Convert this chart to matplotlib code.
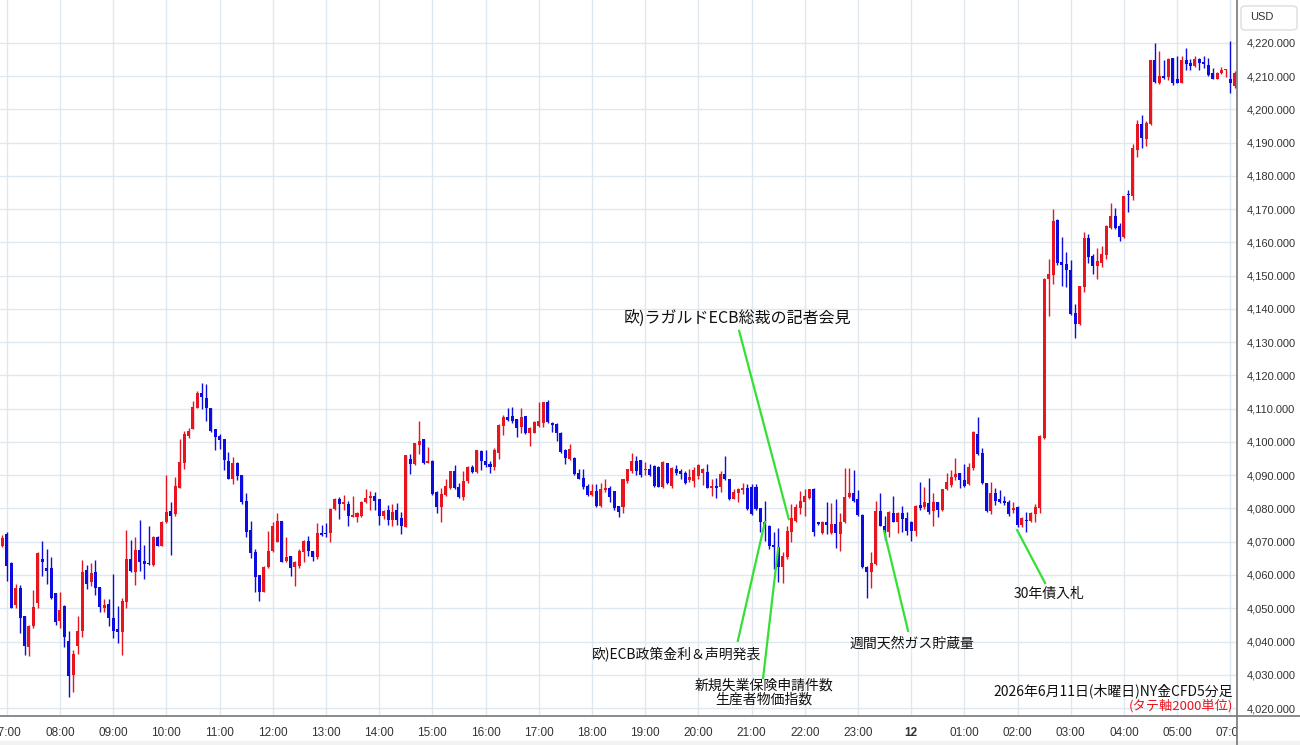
import matplotlib.pyplot as plt
from matplotlib.lines import Line2D
from matplotlib.patches import FancyBboxPatch, Rectangle
from matplotlib.transforms import Bbox
import numpy as np

plt.rcParams['font.family'] = ['Noto Sans CJK JP', 'DejaVu Sans']

# 5-minute bars, first bar is 06:55, one row per hour
opens = [4068.6,
    4072.4, 4063.6, 4051.1, 4056.0, 4047.8, 4038.3, 4044.6, 4051.6, 4064.8, 4062.2, 4062.0, 4054.6,
    4046.1, 4050.6, 4040.1, 4030.0, 4038.6, 4043.3, 4061.6, 4057.8, 4060.8, 4056.3, 4050.0, 4051.3,
    4047.0, 4043.8, 4042.8, 4052.0, 4064.8, 4060.8, 4067.6, 4064.3, 4063.4, 4063.0, 4071.3, 4068.8,
    4075.8, 4079.3, 4078.3, 4086.3, 4093.8, 4101.8, 4104.0, 4110.3, 4114.6, 4113.3, 4110.3, 4104.0,
    4101.8, 4100.8, 4094.3, 4089.0, 4093.6, 4090.0, 4082.3, 4073.6, 4067.0, 4060.0, 4055.0, 4062.3,
    4067.3, 4070.0, 4076.3, 4064.3, 4065.6, 4062.3, 4062.8, 4067.0, 4070.3, 4067.3, 4065.3, 4072.6,
    4072.5, 4072.6, 4079.8, 4082.8, 4081.3, 4081.3, 4077.3, 4077.3, 4077.6, 4081.8, 4083.3, 4083.8,
    4082.8, 4077.6, 4079.6, 4076.6, 4079.6, 4077.0, 4074.3, 4095.0, 4093.3, 4099.0, 4100.8, 4093.8,
    4094.3, 4085.0, 4080.3, 4084.0, 4086.3, 4091.3, 4086.6, 4083.6, 4088.3, 4092.6, 4091.0, 4097.3,
    4094.3, 4093.3, 4092.6, 4096.6, 4104.8, 4107.6, 4107.8, 4107.0, 4104.6, 4107.8, 4102.6, 4102.8,
    4104.8, 4105.8, 4112.0, 4105.8, 4105.3, 4102.8, 4097.6, 4094.8, 4095.3, 4090.8, 4089.3, 4086.8,
    4084.0, 4085.3, 4080.6, 4085.6, 4086.3, 4085.3, 4080.6, 4080.3, 4088.3, 4091.3, 4094.3, 4094.6,
    4091.6, 4092.0, 4092.8, 4092.6, 4086.6, 4093.6, 4086.8, 4092.0, 4091.3, 4090.8, 4088.6, 4088.3,
    4089.8, 4090.8, 4091.0, 4086.3, 4086.8, 4086.6, 4090.3, 4089.0, 4083.0, 4084.6, 4085.6, 4086.3,
    4086.6, 4086.6, 4080.0, 4075.8, 4074.6, 4069.0, 4068.3, 4062.3, 4065.3, 4072.8, 4076.3, 4080.0,
    4081.8, 4083.3, 4086.0, 4075.8, 4072.6, 4076.0, 4072.6, 4075.3, 4072.3, 4075.8, 4083.6, 4084.6,
    4083.0, 4078.0, 4062.3, 4060.8, 4063.3, 4079.3, 4074.8, 4072.8, 4078.6, 4076.0, 4078.6, 4077.0,
    4076.0, 4073.3, 4081.0, 4080.3, 4081.6, 4079.3, 4081.8, 4079.6, 4085.8, 4087.0, 4089.6, 4090.6,
    4088.6, 4087.3, 4092.3, 4102.3, 4096.8, 4087.6, 4079.3, 4084.6, 4082.8, 4082.2, 4081.8, 4079.5,
    4080.5, 4075.0, 4076.5, 4076.2, 4078.2, 4080.2, 4101.2, 4149.0, 4150.2, 4166.8, 4154.2, 4153.5,
    4151.8, 4138.8, 4135.5, 4146.5, 4161.2, 4155.8, 4152.8, 4153.8, 4156.2, 4164.2, 4167.8, 4165.0,
    4161.5, 4174.4, 4174.0, 4187.8, 4195.5, 4191.0, 4195.5, 4214.8, 4207.8, 4210.0, 4209.8, 4215.5,
    4209.0, 4208.0, 4215.0, 4214.0, 4213.2, 4215.2, 4214.0, 4213.5, 4211.0, 4209.2, 4211.0, 4211.8,
    4209.0, 4207.0]

highs = [4072.1,
    4073.0, 4063.8, 4057.3, 4057.0, 4047.8, 4045.0, 4055.5, 4067.0, 4070.1, 4067.8, 4065.3, 4054.6,
    4054.8, 4051.0, 4043.3, 4037.3, 4047.8, 4064.6, 4063.0, 4063.5, 4064.5, 4056.3, 4052.8, 4052.8,
    4060.3, 4050.6, 4053.0, 4073.5, 4070.6, 4071.3, 4076.6, 4069.0, 4074.8, 4071.8, 4071.8, 4076.3,
    4090.0, 4082.0, 4089.6, 4100.8, 4103.3, 4104.3, 4112.3, 4115.3, 4117.8, 4117.3, 4110.3, 4104.0,
    4102.3, 4100.8, 4097.0, 4095.6, 4094.0, 4090.0, 4084.8, 4076.3, 4067.8, 4060.0, 4062.6, 4073.3,
    4075.8, 4078.6, 4076.3, 4071.5, 4065.8, 4064.3, 4067.8, 4070.6, 4071.8, 4067.3, 4075.6, 4075.0,
    4075.6, 4080.0, 4083.3, 4083.6, 4084.0, 4082.3, 4083.8, 4078.8, 4082.3, 4086.0, 4085.3, 4085.0,
    4083.0, 4079.6, 4081.0, 4081.3, 4081.6, 4078.8, 4096.0, 4096.3, 4099.6, 4106.3, 4101.0, 4098.6,
    4094.6, 4085.3, 4086.3, 4089.0, 4091.3, 4093.0, 4087.8, 4091.3, 4092.8, 4093.0, 4097.6, 4097.6,
    4097.6, 4094.3, 4098.3, 4105.3, 4108.0, 4110.3, 4110.6, 4107.0, 4110.3, 4107.8, 4104.6, 4106.3,
    4112.0, 4112.0, 4112.6, 4106.0, 4105.8, 4103.0, 4098.0, 4099.3, 4095.6, 4092.0, 4092.0, 4087.3,
    4087.3, 4087.3, 4087.6, 4088.8, 4086.8, 4085.3, 4080.6, 4089.0, 4092.0, 4096.6, 4095.8, 4094.6,
    4094.0, 4093.3, 4093.0, 4092.8, 4094.3, 4093.8, 4092.6, 4093.0, 4092.0, 4091.3, 4092.0, 4092.6,
    4093.3, 4092.3, 4093.3, 4089.0, 4089.3, 4091.3, 4095.8, 4089.0, 4085.8, 4086.3, 4087.6, 4087.3,
    4087.3, 4087.3, 4080.0, 4082.3, 4075.0, 4073.0, 4074.0, 4067.0, 4074.6, 4081.3, 4081.3, 4085.3,
    4085.8, 4086.0, 4086.3, 4076.0, 4076.3, 4081.8, 4081.6, 4083.0, 4078.6, 4092.3, 4092.3, 4091.6,
    4085.6, 4078.3, 4062.6, 4066.8, 4082.3, 4084.8, 4077.8, 4079.3, 4083.8, 4078.8, 4080.8, 4079.0,
    4076.3, 4081.0, 4088.0, 4086.6, 4089.3, 4084.8, 4082.0, 4086.0, 4090.6, 4091.6, 4095.3, 4090.6,
    4093.3, 4093.6, 4103.3, 4107.6, 4098.3, 4087.6, 4088.0, 4086.3, 4085.5, 4083.8, 4082.5, 4081.8,
    4080.8, 4077.5, 4079.0, 4079.0, 4081.2, 4102.0, 4149.2, 4155.0, 4170.2, 4167.0, 4161.5, 4157.2,
    4154.8, 4141.5, 4147.0, 4163.0, 4162.5, 4156.5, 4158.2, 4159.0, 4165.2, 4172.0, 4170.5, 4165.8,
    4174.0, 4175.8, 4189.5, 4196.8, 4198.2, 4196.5, 4214.8, 4220.0, 4217.5, 4215.0, 4215.5, 4215.5,
    4216.0, 4216.2, 4218.5, 4215.2, 4216.2, 4215.5, 4216.2, 4215.5, 4212.5, 4211.2, 4212.8, 4212.2,
    4220.5, 4211.5]

lows = [4068.3,
    4058.1, 4050.0, 4050.0, 4042.6, 4035.8, 4035.6, 4044.1, 4050.0, 4059.6, 4057.3, 4052.8, 4045.0,
    4044.0, 4038.3, 4023.3, 4024.8, 4036.3, 4041.3, 4055.8, 4056.6, 4054.0, 4048.8, 4048.8, 4044.6,
    4041.0, 4039.5, 4035.8, 4050.0, 4060.8, 4057.0, 4061.3, 4058.8, 4063.0, 4062.8, 4068.6, 4068.8,
    4075.6, 4066.0, 4077.8, 4086.3, 4092.0, 4101.3, 4103.8, 4110.3, 4110.0, 4106.3, 4103.0, 4097.6,
    4097.8, 4091.6, 4089.0, 4087.3, 4088.6, 4081.3, 4071.3, 4065.0, 4054.8, 4052.3, 4054.8, 4062.0,
    4066.8, 4069.8, 4063.8, 4064.0, 4059.8, 4056.6, 4062.0, 4064.0, 4065.8, 4064.3, 4064.8, 4071.6,
    4071.3, 4070.0, 4079.6, 4076.8, 4079.6, 4074.8, 4077.3, 4076.0, 4077.3, 4081.6, 4079.6, 4079.6,
    4075.0, 4076.8, 4075.0, 4074.6, 4075.0, 4072.3, 4074.3, 4090.3, 4093.0, 4096.3, 4093.3, 4093.6,
    4084.0, 4078.6, 4076.0, 4083.8, 4086.0, 4085.8, 4083.3, 4082.6, 4087.8, 4090.6, 4090.8, 4091.6,
    4092.6, 4090.8, 4091.6, 4094.8, 4102.0, 4106.3, 4105.8, 4101.6, 4102.8, 4102.3, 4098.8, 4102.6,
    4104.6, 4104.6, 4105.6, 4103.0, 4100.3, 4096.8, 4093.3, 4094.6, 4090.0, 4088.8, 4086.0, 4083.8,
    4083.8, 4080.3, 4080.3, 4085.0, 4082.0, 4079.6, 4077.3, 4078.5, 4087.8, 4090.8, 4090.0, 4089.6,
    4090.0, 4089.8, 4086.6, 4086.4, 4086.3, 4087.3, 4086.3, 4090.0, 4089.0, 4087.3, 4088.0, 4086.6,
    4089.0, 4087.0, 4086.3, 4083.8, 4083.3, 4085.0, 4088.6, 4082.6, 4082.8, 4081.8, 4084.3, 4079.6,
    4078.0, 4079.6, 4072.8, 4070.3, 4067.8, 4061.8, 4058.0, 4057.6, 4064.8, 4069.8, 4076.0, 4078.3,
    4077.6, 4082.8, 4071.6, 4075.0, 4072.3, 4072.3, 4072.3, 4068.0, 4067.3, 4075.6, 4083.3, 4082.0,
    4077.8, 4062.0, 4053.0, 4056.0, 4063.0, 4074.6, 4070.6, 4071.3, 4075.8, 4072.6, 4073.0, 4072.0,
    4070.3, 4071.8, 4079.6, 4079.8, 4078.3, 4074.8, 4077.3, 4079.3, 4085.6, 4086.6, 4088.6, 4086.3,
    4086.6, 4087.0, 4091.6, 4096.0, 4087.3, 4079.0, 4078.3, 4081.0, 4081.5, 4081.0, 4077.8, 4078.5,
    4074.5, 4074.5, 4073.0, 4076.0, 4076.0, 4078.5, 4101.0, 4138.0, 4147.5, 4153.2, 4146.8, 4146.5,
    4138.2, 4131.2, 4135.2, 4145.2, 4153.8, 4150.5, 4149.0, 4152.5, 4155.0, 4164.0, 4164.0, 4160.5,
    4161.2, 4169.2, 4172.8, 4185.8, 4188.5, 4189.0, 4195.2, 4207.8, 4207.5, 4209.2, 4208.8, 4207.2,
    4207.8, 4207.8, 4211.8, 4211.8, 4212.8, 4211.8, 4212.5, 4210.0, 4209.0, 4209.0, 4210.5, 4209.8,
    4205.0, 4206.5]

closes = [4071.0,
    4062.6, 4050.1, 4056.0, 4047.1, 4038.6, 4044.6, 4050.3, 4066.6, 4063.8, 4061.2, 4053.0, 4045.8,
    4049.5, 4041.3, 4029.6, 4036.1, 4043.3, 4060.8, 4057.3, 4060.6, 4056.0, 4050.5, 4051.0, 4047.0,
    4043.3, 4042.8, 4052.3, 4064.8, 4061.3, 4067.6, 4064.0, 4063.3, 4063.2, 4071.3, 4068.8, 4075.8,
    4078.8, 4077.8, 4086.8, 4094.0, 4102.3, 4103.3, 4110.6, 4114.6, 4113.6, 4110.3, 4103.3, 4101.6,
    4100.6, 4094.6, 4089.0, 4093.6, 4089.8, 4081.8, 4073.0, 4066.6, 4059.3, 4054.8, 4062.3, 4067.3,
    4074.8, 4076.3, 4064.0, 4065.3, 4062.0, 4063.8, 4067.3, 4070.3, 4067.3, 4065.3, 4072.6, 4072.0,
    4072.3, 4079.8, 4083.0, 4081.3, 4081.8, 4077.6, 4078.0, 4078.6, 4082.0, 4083.3, 4083.6, 4082.3,
    4077.6, 4079.3, 4076.6, 4078.8, 4076.6, 4074.8, 4096.0, 4093.3, 4099.6, 4100.3, 4093.6, 4094.3,
    4084.3, 4080.3, 4084.3, 4086.8, 4091.3, 4086.3, 4083.6, 4088.3, 4092.6, 4091.0, 4097.6, 4094.3,
    4093.0, 4092.6, 4097.6, 4105.0, 4107.6, 4106.6, 4106.3, 4104.3, 4107.6, 4102.6, 4104.3, 4106.0,
    4106.3, 4112.0, 4106.0, 4105.0, 4102.8, 4097.0, 4095.3, 4097.8, 4090.3, 4089.0, 4086.6, 4084.0,
    4085.3, 4080.6, 4085.8, 4086.3, 4083.6, 4080.0, 4079.0, 4089.0, 4091.8, 4094.3, 4091.3, 4090.0,
    4092.0, 4090.0, 4086.8, 4086.6, 4094.0, 4087.6, 4092.3, 4090.8, 4090.3, 4087.8, 4089.6, 4091.6,
    4093.0, 4092.0, 4086.3, 4086.6, 4086.3, 4090.3, 4088.8, 4083.0, 4085.0, 4085.8, 4086.3, 4079.8,
    4078.3, 4079.8, 4076.0, 4074.6, 4068.8, 4068.3, 4062.3, 4065.8, 4073.3, 4077.0, 4080.3, 4082.3,
    4083.8, 4085.8, 4073.0, 4075.3, 4075.8, 4075.0, 4075.3, 4072.6, 4075.8, 4083.6, 4084.6, 4082.3,
    4078.0, 4062.3, 4060.8, 4063.6, 4079.3, 4074.8, 4073.3, 4078.8, 4076.0, 4078.6, 4076.8, 4073.3,
    4073.3, 4080.6, 4080.0, 4082.0, 4078.8, 4082.0, 4079.6, 4085.8, 4088.0, 4089.6, 4090.3, 4088.6,
    4086.8, 4092.6, 4103.0, 4096.3, 4087.6, 4079.3, 4084.6, 4082.3, 4082.0, 4081.5, 4078.2, 4080.2,
    4075.0, 4077.0, 4076.2, 4078.5, 4080.5, 4101.8, 4149.0, 4150.5, 4166.5, 4153.8, 4153.2, 4151.8,
    4138.5, 4135.5, 4146.8, 4161.2, 4155.5, 4152.8, 4154.5, 4156.5, 4165.0, 4167.8, 4164.2, 4161.5,
    4174.0, 4174.2, 4188.5, 4195.5, 4191.5, 4196.0, 4214.8, 4208.2, 4210.0, 4209.5, 4215.2, 4207.8,
    4208.0, 4214.8, 4213.8, 4213.2, 4215.2, 4214.0, 4213.8, 4210.2, 4209.2, 4211.0, 4212.0, 4212.0,
    4208.0, 4211.0]

# x tick labels at each hour (bar 0 = 07:00)
tick_labels = ['07:00', '08:00', '09:00', '10:00', '11:00', '12:00', '13:00', '14:00',
               '15:00', '16:00', '17:00', '18:00', '19:00', '20:00', '21:00', '22:00',
               '23:00', '12', '01:00', '02:00', '03:00', '04:00', '05:00', '07:00']

# event notes: text, text position (bar, price), line start, line end, font size
notes = [
    ('欧)ラガルドECB総裁の記者会見', (164.9, 4137.3), (165.2, 4133.4), (176.4, 4076.8), 11.5),
    ('欧)ECB政策金利＆声明発表', (151.0, 4036.2), (164.9, 4040.2), (171.0, 4075.9), 10),
    ('新規失業保険申請件数\n生産者物価指数', (170.8, 4024.7), (170.6, 4029.0), (174.0, 4068.1), 10),
    ('週間天然ガス貯蔵量', (204.2, 4039.5), (203.3, 4043.2), (197.9, 4073.2), 10),
    ('30年債入札', (235.1, 4054.3), (234.2, 4057.6), (227.9, 4073.5), 10),
]

RED = '#e8141e'
BLUE = '#0c0ce0'
GREEN = '#33e033'

o = np.array(opens)
h = np.array(highs)
l = np.array(lows)
c = np.array(closes)
x = np.arange(len(o)) - 1

fig = plt.figure(figsize=(13, 7.45), dpi=100)
ax = fig.add_axes([0, 29 / 745, 1237 / 1300, 716 / 745])

colors = np.where(c >= o, RED, BLUE)
ax.vlines(x, l, h, colors=colors, lw=1, zorder=2)
body = np.maximum(np.abs(c - o), 0.35)
ax.bar(x, body, bottom=np.minimum(o, c), width=0.68, color=colors, lw=0, zorder=3)

for text, tpos, p0, p1, fs in notes:
    ax.plot([p0[0], p1[0]], [p0[1], p1[1]], color=GREEN, lw=1.6, zorder=4)
    ax.text(tpos[0], tpos[1], text, ha='center', va='center', fontsize=fs,
            color='#111111', linespacing=1.0, zorder=5)

ax.set_xlim(-1.53, 277.5)
ax.set_ylim(4017.6, 4232.9)

ax.set_xticks(np.arange(len(tick_labels)) * 12)
ax.set_xticklabels(tick_labels, fontfamily='Liberation Sans')
ax.set_yticks(np.arange(4020, 4221, 10))
ax.set_yticklabels(['{:,.3f}'.format(v) for v in np.arange(4020, 4221, 10)],
                   fontfamily='Liberation Sans')
ax.yaxis.tick_right()
ax.tick_params(axis='y', length=0, pad=7, labelsize=8, labelcolor='#333333')
ax.tick_params(axis='x', length=0, pad=8, labelsize=8.5, labelcolor='#333333')
ax.grid(True, color='#dfe7ef', lw=1)
ax.set_axisbelow(True)
for s in ax.spines.values():
    s.set_visible(False)

xl = ax.get_xticklabels()
xl[17].set_fontweight('bold')
xl[-1].set_clip_box(Bbox([[0, 0], [1237, 745]]))
xl[-1].set_clip_on(True)

# frame lines and bottom strip
fig.add_artist(Line2D([0, 1], [29 / 745, 29 / 745], color='#777777', lw=1.2,
                      transform=fig.transFigure))
fig.add_artist(Line2D([1237 / 1300, 1237 / 1300], [0, 1], color='#777777', lw=1.2,
                      transform=fig.transFigure))
fig.add_artist(Rectangle((0, 0), 1, 4 / 745, color='#f2f2f2', transform=fig.transFigure,
                         zorder=0))

# currency box
fig.add_artist(FancyBboxPatch((1241 / 1300, 1 - 30 / 745), 56 / 1300, 24 / 745,
                              boxstyle='round,pad=0,rounding_size=0.004',
                              fc='white', ec='#dddddd', lw=1, transform=fig.transFigure))
fig.text(1250 / 1300, 1 - 17 / 745, 'USD', fontsize=8, color='#333333',
         va='center', fontfamily='Liberation Sans')

fig.text(1233 / 1300, 1 - 691 / 745, '2026年6月11日(木曜日)NY金CFD5分足', ha='right',
         va='center', fontsize=10, color='#111111')
fig.text(1233 / 1300, 1 - 706 / 745, '(タテ軸2000単位)', ha='right', va='center',
         fontsize=9.5, color='#e8141e')

fig.savefig('out.png', dpi=100)
